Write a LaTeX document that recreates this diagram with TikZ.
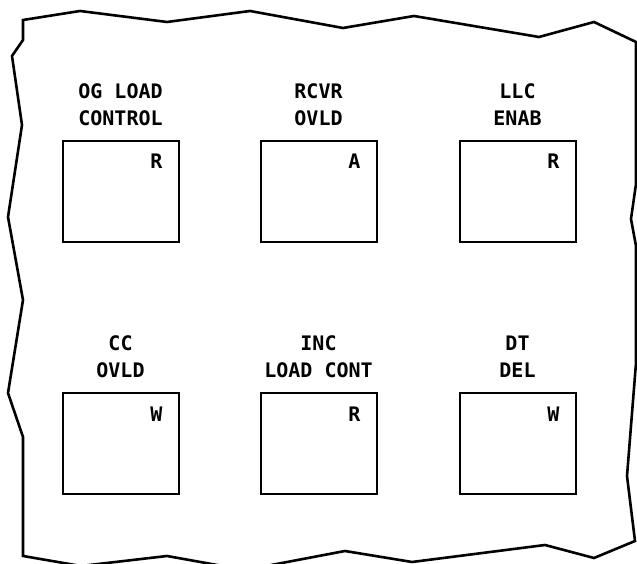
\documentclass[tikz,border=0pt]{standalone}
\usepackage{fontspec}
\newfontfamily\plotfont{DejaVu Sans Mono}
\usetikzlibrary{positioning}
\tikzstyle{panel}=[rectangle,draw=black,line width=2pt,minimum width=116pt,minimum height=101pt,inner sep=0pt]
\tikzstyle{title}=[align=center,inner sep=0pt,font=\plotfont\bfseries\fontsize{20}{27}\selectfont]
\tikzstyle{mode}=[inner sep=0pt,font=\plotfont\bfseries\fontsize{20}{27}\selectfont]

\begin{document}
\begin{tikzpicture}[x=1pt,y=1pt]
        \useasboundingbox (0,0) rectangle (637,564);

        % torn sheet outline
        \draw [line width=2.6pt, line join=miter]
            (23,544) -- (80,553) -- (167,542) -- (250,553) -- (343,536)
            -- (414,548) -- (539,527) -- (594,542) -- (636,522)
            -- (636,380) -- (631,345) -- (636,318) -- (636,201)
            -- (627,88) -- (635,23) -- (594,6) -- (545,19) -- (412,2)
            -- (345,13) -- (245,-6) -- (167,8) -- (81,-2) -- (23,8)
            -- (23,127) -- (8,171) -- (23,264) -- (8,347) -- (22,439)
            -- (12,508) -- (23,524) -- cycle;

        % panels
        \node [style = panel] (ogl) at (120.5, 372.5) {};
        \node [style = panel] (rcvr) at (318.5, 372.5) {};
        \node [style = panel] (llc) at (517.5, 372.5) {};
        \node [style = panel] (cc) at (120.5, 120) {};
        \node [style = panel] (inc) at (318.5, 120) {};
        \node [style = panel] (dt) at (517.5, 120) {};

        % titles
        \node [style = title, above=14pt of ogl] (ogl-t) {OG LOAD\\CONTROL};
        \node [style = title, above=14pt of rcvr] (rcvr-t) {RCVR\\OVLD};
        \node [style = title, above=14pt of llc] (llc-t) {LLC\\ENAB};
        \node [style = title, above=15pt of cc] (cc-t) {CC\\OVLD};
        \node [style = title, above=15pt of inc] (inc-t) {INC\\LOAD CONT};
        \node [style = title, above=15pt of dt] (dt-t) {DT\\DEL};

        % access letters
        \node [style = mode, below left=14pt and 17pt of ogl.north east] (ogl-m) {R};
        \node [style = mode, below left=14pt and 17pt of rcvr.north east] (rcvr-m) {A};
        \node [style = mode, below left=14pt and 17pt of llc.north east] (llc-m) {R};
        \node [style = mode, below left=14pt and 17pt of cc.north east] (cc-m) {W};
        \node [style = mode, below left=14pt and 17pt of inc.north east] (inc-m) {R};
        \node [style = mode, below left=14pt and 17pt of dt.north east] (dt-m) {W};
    \end{tikzpicture}
\end{document}
